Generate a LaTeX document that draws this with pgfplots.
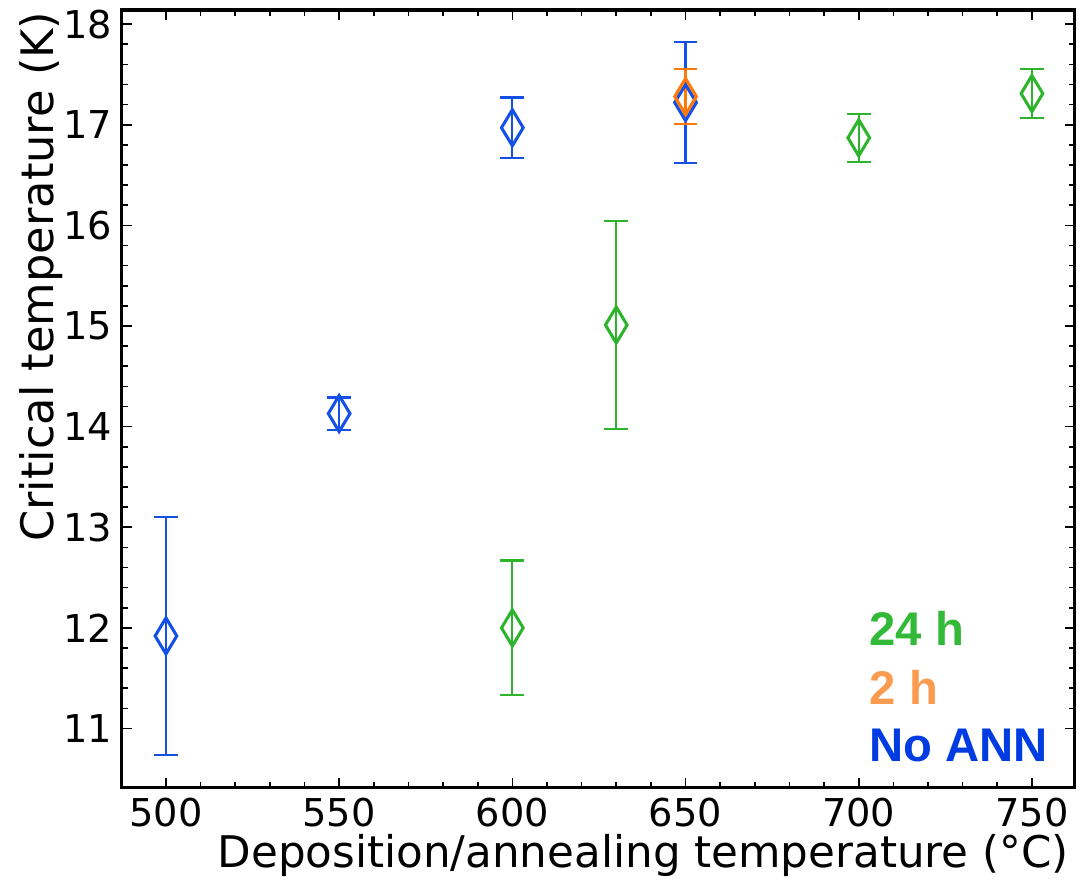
\documentclass[border=0pt]{standalone}
\usepackage{pgfplots}
\pgfplotsset{compat=1.18}
\usepackage{fontspec}
\setmainfont{DejaVu Sans}
\newfontfamily\legfont{Liberation Sans}
\definecolor{cblue}{RGB}{20,80,230}
\definecolor{cgreen}{RGB}{45,180,45}
\definecolor{corange}{RGB}{255,120,10}
\definecolor{lgreen}{RGB}{50,185,55}
\definecolor{lorange}{RGB}{250,155,80}
\definecolor{lblue}{RGB}{0,60,225}
\begin{document}
\begin{tikzpicture}
\begin{axis}[
  scale only axis,
  width=343pt, height=280pt,
  xmin=487.3, xmax=762.4,
  ymin=10.41, ymax=18.14,
  xtick={500,550,...,750},
  ytick={11,12,...,18},
  minor x tick num=4,
  minor y tick num=4,
  tick align=inside,
  xtick pos=both, ytick pos=both,
  major tick length=3.6pt,
  minor tick length=2.2pt,
  every tick/.style={black, line width=0.6pt},
  axis line style={line width=1.1pt},
  /pgf/number format/assume math mode=true,
  /pgf/number format/1000 sep={},
  tick label style={font=\fontsize{13.8}{16}\selectfont},
  xlabel style={font=\fontsize{15.7}{18}\selectfont},
  ylabel style={font=\fontsize{16.1}{18}\selectfont},
  xlabel={Deposition/annealing temperature (°C)},
  ylabel={Critical temperature (K)},
  xlabel style={at={(ticklabel cs:0.547)}, yshift=4pt},
  ylabel style={at={(ticklabel cs:0.657)}, yshift=-6.5pt},
  error bars/y dir=both,
  error bars/y explicit,
  error bars/error bar style={line width=0.8pt},
  error bars/error mark options={line width=0.8pt, mark size=4.3pt, rotate=90},
  mark options={xscale=0.8, line width=1.1pt},
]
% No annealing
\addplot[only marks, mark=diamond, mark size=6.5pt, color=cblue,
  error bars/error bar style={cblue, line width=0.8pt}]
  coordinates {
  (500,11.92) +- (0,1.18)
  (550,14.13) +- (0,0.16)
  (600,16.97) +- (0,0.30)
  (650,17.22) +- (0,0.60)
};
% 2 h annealing
\addplot[only marks, mark=diamond, mark size=6.5pt, color=corange,
  error bars/error bar style={corange, line width=0.8pt}]
  coordinates {
  (650,17.28) +- (0,0.27)
};
% 24 h annealing
\addplot[only marks, mark=diamond, mark size=6.5pt, color=cgreen,
  error bars/error bar style={cgreen, line width=0.8pt}]
  coordinates {
  (600,12.00) +- (0,0.67)
  (630,15.01) +- (0,1.03)
  (700,16.87) +- (0,0.24)
  (750,17.31) +- (0,0.24)
};
\node[anchor=west, inner sep=0pt, text=lgreen, font=\legfont\bfseries\fontsize{17}{20}\selectfont] at (axis cs:703,12.0) {24 h};
\node[anchor=west, inner sep=0pt, text=lorange, font=\legfont\bfseries\fontsize{17}{20}\selectfont] at (axis cs:703,11.41) {2 h};
\node[anchor=west, inner sep=0pt, text=lblue, font=\legfont\bfseries\fontsize{17}{20}\selectfont] at (axis cs:703,10.83) {No ANN};
\end{axis}
% fixed page frame around the axis box
\pgfresetboundingbox
\path[use as bounding box]
  ([xshift=-43.9pt, yshift=-33.1pt]current axis.south west)
  rectangle ([xshift=2.2pt, yshift=3.6pt]current axis.north east);
\end{tikzpicture}
\end{document}
